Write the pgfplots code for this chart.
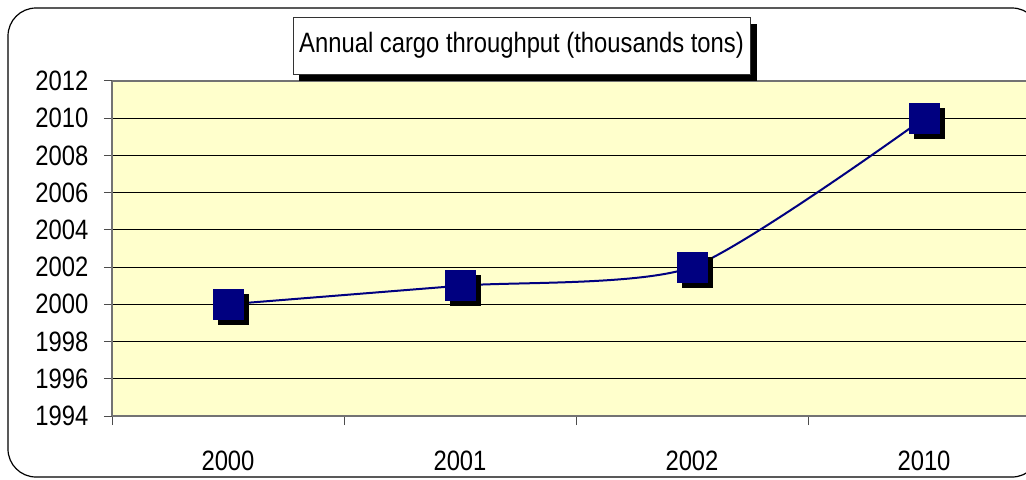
\documentclass[border=0pt]{standalone}
\usepackage{pgfplots}
\pgfplotsset{compat=1.18}
\usepackage{fontspec}
\setmainfont{Liberation Sans}[FakeStretch=0.85]
\definecolor{navyc}{RGB}{0,0,128}
\definecolor{plotbg}{RGB}{255,255,204}
\pgfplotstableread{
x y
0 2000
1 2001
2 2002
3 2010
}\datatable
\begin{document}
\fontsize{14}{16}\selectfont
\begin{tikzpicture}
\useasboundingbox (0,0) rectangle (513pt,239.5pt);
\clip (0,0) rectangle (513pt,239.5pt);
\fill[white] (0,0) rectangle (513pt,239.5pt);
\draw[black, line width=0.6pt, rounded corners=14pt] (4pt,1pt) rectangle (520pt,235.5pt);
\begin{axis}[
  at={(56pt,31.5pt)}, anchor=south west,
  scale only axis, width=464pt, height=167.5pt,
  xmin=-0.5, xmax=3.5, ymin=1994, ymax=2012,
  axis background/.style={fill=plotbg},
  axis line style={draw=gray!90!black, line width=0.6pt},
  xtick={0,1,2,3}, xticklabels={2000,2001,2002,2010},
  minor xtick={-0.5,0.5,1.5,2.5,3.5},
  ytick={1994,1996,...,2012},
  ymajorgrids, major grid style={black, line width=0.5pt},
  tick align=outside,
  xtick style={draw=none},
  minor x tick style={draw=black!70, line width=0.5pt},
  minor tick length=4.5pt,
  ytick style={draw=black!70, line width=0.5pt},
  major tick length=4pt,
  axis x line*=bottom, axis y line*=left,
  tick label style={font=\fontsize{14}{16}\selectfont},
  yticklabel style={xshift=-3pt, /pgf/number format/.cd, 1000 sep={}, assume math mode=true},
  xticklabel style={yshift=-8.5pt},
  clip=false,
]
\addplot[draw=none, mark=square*, mark size=7.5pt, mark options={fill=black, draw=black, xshift=2.5pt, yshift=-2.5pt}] table[x=x,y=y]{\datatable};
\addplot[navyc, line width=1pt, smooth, tension=0.4, mark=none] table[x=x,y=y]{\datatable};
\addplot[draw=none, mark=square*, mark size=7.5pt, mark options={fill=navyc, draw=navyc}] table[x=x,y=y]{\datatable};
\draw[gray!90!black, line width=0.6pt] (axis cs:-0.5,2012) -- (axis cs:3.5,2012);
\end{axis}
\fill[black] (149.5pt,199pt) rectangle (378.5pt,227.5pt);
\node[draw=black!80, line width=0.5pt, fill=white, minimum width=228.5pt, minimum height=28.5pt, inner sep=0pt, anchor=center] at (260.75pt,216.75pt) {Annual cargo throughput (thousands tons)};
\end{tikzpicture}
\end{document}
